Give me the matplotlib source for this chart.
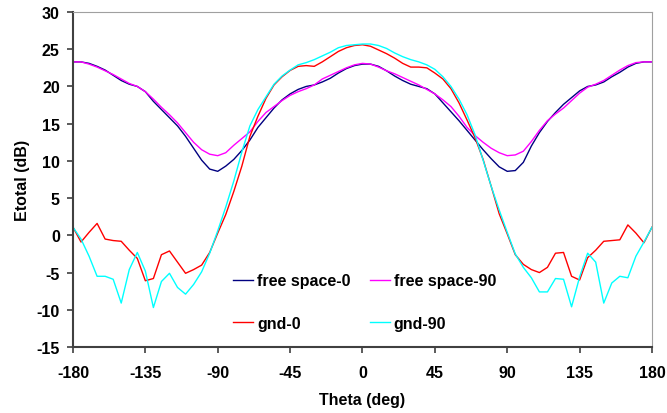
import matplotlib.pyplot as plt

plt.rcParams['font.family'] = ['Liberation Sans', 'DejaVu Sans']
plt.rcParams['axes.unicode_minus'] = False

theta = list(range(-180, 181, 5))

free_space_0 = [
    23.3, 23.3, 23.1, 22.7, 22.2, 21.5, 20.8, 20.3, 20.0, 19.3,
    18.0, 16.9, 15.8, 14.7, 13.3, 11.7, 10.1, 8.9, 8.6, 9.3,
    10.2, 11.4, 12.8, 14.5, 15.8, 17.1, 18.2, 19.0, 19.6, 20.0,
    20.2, 20.6, 21.1, 21.8, 22.4, 22.8, 23.0,
    23.0, 22.7, 22.1, 21.4, 20.8, 20.3, 20.0, 19.7, 19.0,
    17.8, 16.6, 15.4, 14.1, 12.8, 11.5, 10.3, 9.2, 8.6, 8.7,
    9.8, 12.0, 13.8, 15.3, 16.5, 17.6, 18.5, 19.4, 20.0, 20.2,
    20.6, 21.3, 21.9, 22.6, 23.1, 23.3, 23.3,
]
free_space_90 = [
    23.3, 23.3, 23.0, 22.6, 22.1, 21.6, 21.0, 20.4, 20.0, 19.3,
    18.3, 17.2, 16.2, 15.1, 13.8, 12.5, 11.5, 10.9, 10.7, 11.1,
    12.1, 13.0, 13.9, 15.3, 16.5, 17.3, 18.1, 18.8, 19.3, 19.7,
    20.2, 21.0, 21.5, 22.0, 22.5, 22.9, 23.1,
    23.0, 22.6, 22.1, 21.7, 21.2, 20.7, 20.2, 19.6, 19.0,
    18.2, 17.3, 16.0, 14.5, 13.4, 12.5, 11.7, 11.1, 10.7, 10.8,
    11.3, 12.6, 14.1, 15.4, 16.3, 17.1, 18.1, 19.1, 19.9, 20.3,
    20.8, 21.5, 22.2, 22.8, 23.2, 23.3, 23.3,
]
gnd_0 = [
    1.1, -0.9, 0.4, 1.6, -0.5, -0.7, -0.8, -2.0, -3.1, -6.1,
    -5.8, -2.6, -2.1, -3.6, -5.1, -4.6, -4.0, -2.3, 0.3, 2.8,
    5.9, 9.3, 13.3, 16.0, 18.4, 20.2, 21.3, 22.15, 22.7, 22.8,
    22.7, 23.3, 24.0, 24.7, 25.2, 25.5, 25.6,
    25.4, 24.9, 24.4, 23.8, 23.1, 22.6, 22.6, 22.5, 21.8,
    21.0, 19.7, 17.8, 15.5, 13.1, 10.2, 6.6, 2.9, 0.2, -2.6,
    -3.9, -4.6, -5.0, -4.3, -2.4, -2.3, -5.5, -6.0, -3.0, -2.0,
    -0.8, -0.7, -0.6, 1.4, 0.3, -1.0, 1.1,
]
gnd_90 = [
    1.1, -0.5, -2.8, -5.5, -5.5, -5.9, -9.1, -4.6, -2.3, -4.8,
    -9.7, -6.2, -5.1, -7.0, -7.9, -6.6, -4.9, -2.4, 0.6, 3.8,
    7.3, 11.2, 14.7, 16.9, 18.6, 20.3, 21.4, 22.2, 22.9, 23.2,
    23.6, 24.1, 24.6, 25.2, 25.5, 25.6, 25.7,
    25.7, 25.5, 25.1, 24.5, 24.0, 23.6, 23.3, 22.9, 22.3,
    21.3, 20.0, 18.3, 16.2, 13.5, 10.1, 6.6, 3.4, 0.4, -2.5,
    -4.3, -5.7, -7.6, -7.6, -5.8, -5.9, -9.6, -5.6, -2.4, -3.6,
    -9.1, -6.4, -5.5, -5.7, -2.8, -0.9, 1.1,
]

fig = plt.figure(figsize=(6.67, 4.14), dpi=100)
ax = fig.add_axes([0.1094, 0.1594, 0.8681, 0.8092])

l1, = ax.plot(theta, free_space_0, color='#000080', lw=1.0, label='free space-0')
l2, = ax.plot(theta, free_space_90, color='#FF00FF', lw=1.0, label='free space-90')
l3, = ax.plot(theta, gnd_0, color='#FF0000', lw=1.0, label='gnd-0')
l4, = ax.plot(theta, gnd_90, color='#00FFFF', lw=1.0, label='gnd-90')

ax.set_xlim(-180, 180)
ax.set_ylim(-15, 30)
ax.set_xticks(range(-180, 181, 45))
ax.set_yticks(range(-15, 31, 5))
ax.tick_params(direction='out', length=4, width=1.2, color='#404040', labelsize=11.5)
ax.tick_params(axis='x', pad=9)
ax.tick_params(axis='y', pad=5.5)
for lab in ax.get_xticklabels() + ax.get_yticklabels():
    lab.set_fontweight('bold')

ax.spines['left'].set_color('#404040')
ax.spines['left'].set_linewidth(1.5)
ax.spines['bottom'].set_color('#404040')
ax.spines['bottom'].set_linewidth(1.5)
ax.spines['top'].set_color('#a0a0a0')
ax.spines['right'].set_color('#a0a0a0')

ax.set_xlabel('Theta (deg)', fontsize=11.5, fontweight='bold')
ax.set_ylabel('Etotal (dB)', fontsize=11.5, fontweight='bold')
ax.xaxis.set_label_coords(0.5, -0.135)
ax.yaxis.set_label_coords(-0.074, 0.5)

ax.legend([l1, l3, l2, l4], ['free space-0', 'gnd-0', 'free space-90', 'gnd-90'],
          ncol=2, frameon=False, loc='upper left', bbox_to_anchor=(0.263, 0.244),
          prop={'weight': 'bold', 'size': 11.5}, handlelength=1.25, handletextpad=0.25,
          labelspacing=1.73, columnspacing=1.2, borderpad=0)

fig.savefig('out.png', dpi=100)
